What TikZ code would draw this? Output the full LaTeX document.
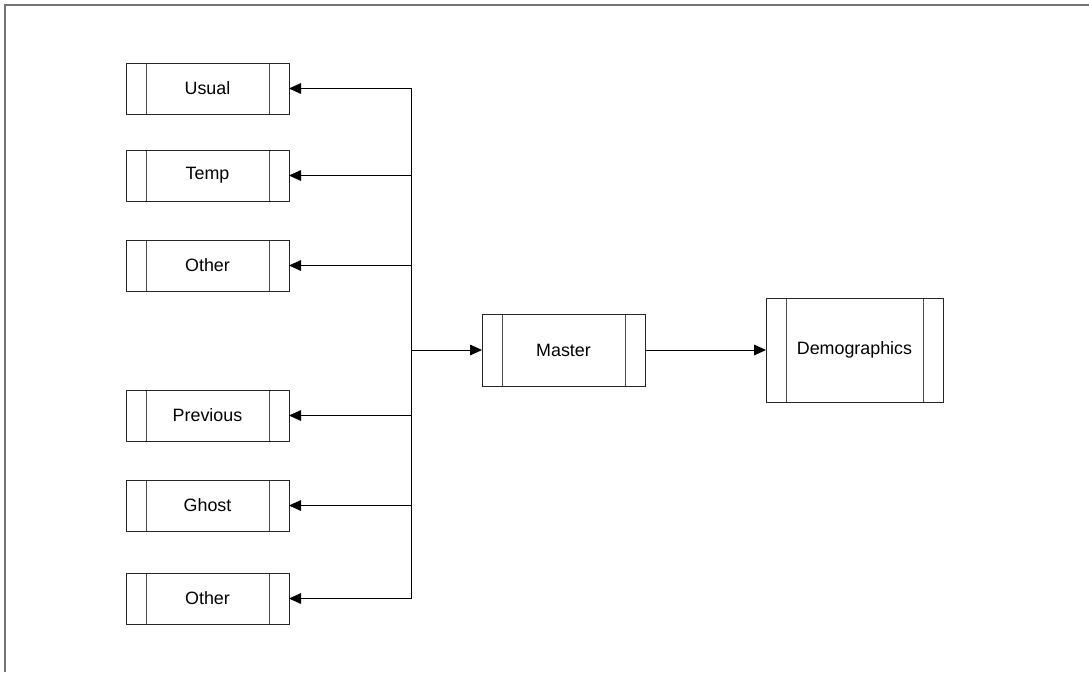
\documentclass[tikz,border=0pt]{standalone}
\usepackage{fontspec}
\setmainfont{Liberation Sans}
\usetikzlibrary{arrows.meta}
\begin{document}
\begin{tikzpicture}[x=0.75pt,y=-0.75pt,
  procbox/.style={draw=black!85,line width=0.75pt,inner sep=0pt,outer sep=0pt,
    minimum width=#1,font=\fontsize{13.4}{16}\selectfont,
    path picture={
      \draw[black!70,line width=0.75pt] ([xshift=15pt]path picture bounding box.north west) -- ([xshift=15pt]path picture bounding box.south west);
      \draw[black!70,line width=0.75pt] ([xshift=-15pt]path picture bounding box.north east) -- ([xshift=-15pt]path picture bounding box.south east);
    }},
  small/.style={procbox=122.25pt,minimum height=38.25pt},
  arr/.style={line width=0.75pt,-{Triangle[length=9pt,width=8pt]}}]
\useasboundingbox (0,0) rectangle (1089,672);
\draw[black!55,line width=1.5pt] (4.5,672) -- (4.5,4.5) -- (1089,4.5);
\node[small] (usual) at (207.5,88.5) {Usual};
\node[small] (temp) at (207.5,175.5) {Temp};
\node[small] (other1) at (207.5,265.5) {Other};
\node[small] (prev) at (207.5,415.5) {Previous};
\node[small] (ghost) at (207.5,505.5) {Ghost};
\node[small] (other2) at (207.5,598.5) {Other};
\node[procbox=122.25pt,minimum height=54pt] (master) at (563.5,350) {Master};
\node[procbox=132.75pt,minimum height=78pt] (demo) at (854.5,350) {Demographics};
\coordinate (j) at (411,350);
\foreach \n in {usual,temp,other1,prev,ghost,other2}
  \draw[arr] (j) |- (\n);
\draw[arr] (j) -- (master);
\draw[arr] (master) -- (demo);
\end{tikzpicture}
\end{document}
